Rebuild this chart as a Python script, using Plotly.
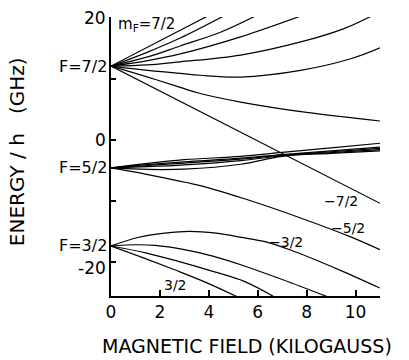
import plotly.graph_objects as go

# ---- data (field in kG, energy/h in GHz) ----
# F = 7/2 manifold (8 states), from top (mF=7/2) to bottom (mF=-7/2)
f72_a_x = [0, 2.0, 3.95]
f72_a_y = [12.1, 16.25, 20.3]
f72_b_x = [0, 1.5, 2.83, 4.6]
f72_b_y = [12.1, 14.4, 16.7, 20.3]
f72_c_x = [0, 1.5, 2.83, 4.5, 5.9]
f72_c_y = [12.1, 13.6, 15.4, 17.7, 20.3]
f72_d_x = [0, 1.5, 2.83, 5.3, 7.75]
f72_d_y = [12.1, 13.0, 14.1, 16.9, 20.3]
f72_e_x = [0, 1.5, 2.83, 5.3, 7.8, 9.5, 10.65]
f72_e_y = [12.1, 12.3, 12.8, 13.9, 16.1, 18.2, 20.3]
f72_f_x = [0, 1.5, 2.83, 3.65, 5.3, 7.75, 9.8, 11]
f72_f_y = [12.1, 11.4, 10.9, 10.6, 10.3, 11.4, 13.3, 15.1]
f72_g_x = [0, 1.5, 2.83, 3.65, 5.3, 8.0, 11]
f72_g_y = [12.1, 10.3, 8.6, 7.6, 6.2, 4.5, 3.1]
f72_h_x = [0, 11]
f72_h_y = [12.1, -10.4]

# F = 5/2 manifold (6 states)
f52_1_x = [0, 1.5, 3.0, 5.3, 7.0, 9.0, 11]
f52_1_y = [-4.6, -3.85, -3.25, -2.7, -2.05, -1.3, -0.55]
f52_2_x = [0, 1.5, 3.0, 5.3, 7.0, 9.0, 11]
f52_2_y = [-4.6, -4.05, -3.6, -3.0, -2.4, -1.8, -1.2]
f52_3_x = [0, 1.5, 3.0, 5.3, 7.0, 9.0, 11]
f52_3_y = [-4.6, -4.2, -3.8, -3.15, -2.5, -1.95, -1.4]
f52_4_x = [0, 1.5, 3.0, 5.3, 7.0, 9.0, 11]
f52_4_y = [-4.6, -4.4, -4.1, -3.4, -2.6, -2.1, -1.6]
f52_5_x = [0, 1.5, 3.0, 5.3, 7.0, 9.0, 11]
f52_5_y = [-4.6, -4.85, -4.8, -4.0, -2.7, -2.2, -1.8]
f52_6_x = [0, 1.0, 2.0, 3.65, 5.49, 7.75, 9.8, 11]
f52_6_y = [-4.6, -5.3, -6.1, -7.5, -9.7, -12.8, -15.9, -18.0]

# F = 3/2 manifold (4 states)
f32_1_x = [0, 1.1, 2.2, 3.2, 4.3, 5.35, 6.4, 7.5, 8.5, 9.5, 11]
f32_1_y = [-17.4, -16.0, -15.3, -15.0, -15.3, -16.0, -16.8, -18.3, -19.9, -21.6, -24.3]
f32_2_x = [0, 1.0, 1.8, 3.0, 4.2, 5.4, 7.0, 8.9]
f32_2_y = [-17.4, -17.2, -17.3, -18.0, -19.1, -20.6, -22.9, -25.8]
f32_3_x = [0, 1.5, 2.83, 4.2, 5.45, 6.7]
f32_3_y = [-17.4, -18.6, -20.0, -21.6, -23.2, -25.8]
f32_4_x = [0, 1.3, 2.6, 3.9, 5.2]
f32_4_y = [-17.4, -19.3, -21.3, -23.4, -25.8]

curves = [
    (f72_a_x, f72_a_y), (f72_b_x, f72_b_y), (f72_c_x, f72_c_y), (f72_d_x, f72_d_y),
    (f72_e_x, f72_e_y), (f72_f_x, f72_f_y), (f72_g_x, f72_g_y), (f72_h_x, f72_h_y),
    (f52_1_x, f52_1_y), (f52_2_x, f52_2_y), (f52_3_x, f52_3_y), (f52_4_x, f52_4_y),
    (f52_5_x, f52_5_y), (f52_6_x, f52_6_y),
    (f32_1_x, f32_1_y), (f32_2_x, f32_2_y), (f32_3_x, f32_3_y), (f32_4_x, f32_4_y),
]

x_ticks = [0, 2, 4, 6, 8, 10]
y_ticks = [-20, -10, 0, 10, 20]
y_label_values = [20, 0, -20]
y_label_text = ["20", "0", "-20"]
y_label_shift = [0, 0, -6]

level_labels = ["F=7/2", "F=5/2", "F=3/2"]
level_values = [12.1, -4.6, -17.4]

curve_labels = ["m<sub>F</sub>=7/2", "\u22127/2", "\u22125/2", "\u22123/2", "3/2"]
curve_label_x = [0.2, 9.39, 9.7, 7.17, 2.62]
curve_label_y = [18.85, -10.1, -14.4, -16.7, -23.8]
curve_label_anchor = ["left", "center", "center", "center", "center"]

FONT = "DejaVu Sans"

fig = go.Figure()
for cx, cy in curves:
    fig.add_trace(go.Scatter(
        x=cx, y=cy, mode="lines",
        line=dict(color="black", width=1.2,
                  shape="spline" if len(cx) > 2 else "linear", smoothing=1.0),
        showlegend=False, hoverinfo="skip"))

for txt, lx, ly, anc in zip(curve_labels, curve_label_x, curve_label_y, curve_label_anchor):
    fig.add_annotation(x=lx, y=ly, text=txt, showarrow=False, xanchor=anc, yanchor="middle",
                       font=dict(family=FONT, size=14 if anc == "center" else 15, color="black"))

for txt, ly in zip(level_labels, level_values):
    fig.add_annotation(x=0, xref="paper", y=ly, yref="y", text=txt, showarrow=False,
                       xanchor="right", yanchor="middle", xshift=-2,
                       font=dict(family=FONT, size=16, color="black"))

for txt, ly, sh in zip(y_label_text, y_label_values, y_label_shift):
    fig.add_annotation(x=0, xref="paper", y=ly, yref="y", text=txt, showarrow=False,
                       xanchor="right", yanchor="middle", xshift=-3, yshift=sh,
                       font=dict(family=FONT, size=17, color="black"))

fig.add_annotation(x=0.505, xref="paper", y=-0.179, yref="paper",
                   text="MAGNETIC FIELD (KILOGAUSS)", showarrow=False,
                   xanchor="center", yanchor="middle", borderpad=0,
                   font=dict(family=FONT, size=19, color="black"))
fig.add_annotation(x=-0.349, xref="paper", y=0.516, yref="paper",
                   text="ENERGY / h\u00a0\u00a0\u00a0(GHz)", showarrow=False, textangle=-90,
                   xanchor="center", yanchor="middle", borderpad=0,
                   font=dict(family=FONT, size=20, color="black"))

fig.update_layout(
    width=409, height=360,
    margin=dict(l=111, r=29, t=17, b=64),
    paper_bgcolor="white", plot_bgcolor="white",
    xaxis=dict(range=[0, 11], tickvals=x_ticks, ticktext=[str(v) for v in x_ticks],
               ticks="inside", ticklen=6, tickwidth=1.5, tickcolor="black",
               showline=True, linecolor="black", linewidth=1.8,
               showgrid=False, zeroline=False,
               tickfont=dict(family=FONT, size=17, color="black")),
    yaxis=dict(range=[-25.6, 20.15], tickvals=y_ticks, showticklabels=False,
               ticks="inside", ticklen=5, tickwidth=1.5, tickcolor="black",
               showline=True, linecolor="black", linewidth=1.8,
               showgrid=False, zeroline=False),
)

fig.write_html("out.html")
